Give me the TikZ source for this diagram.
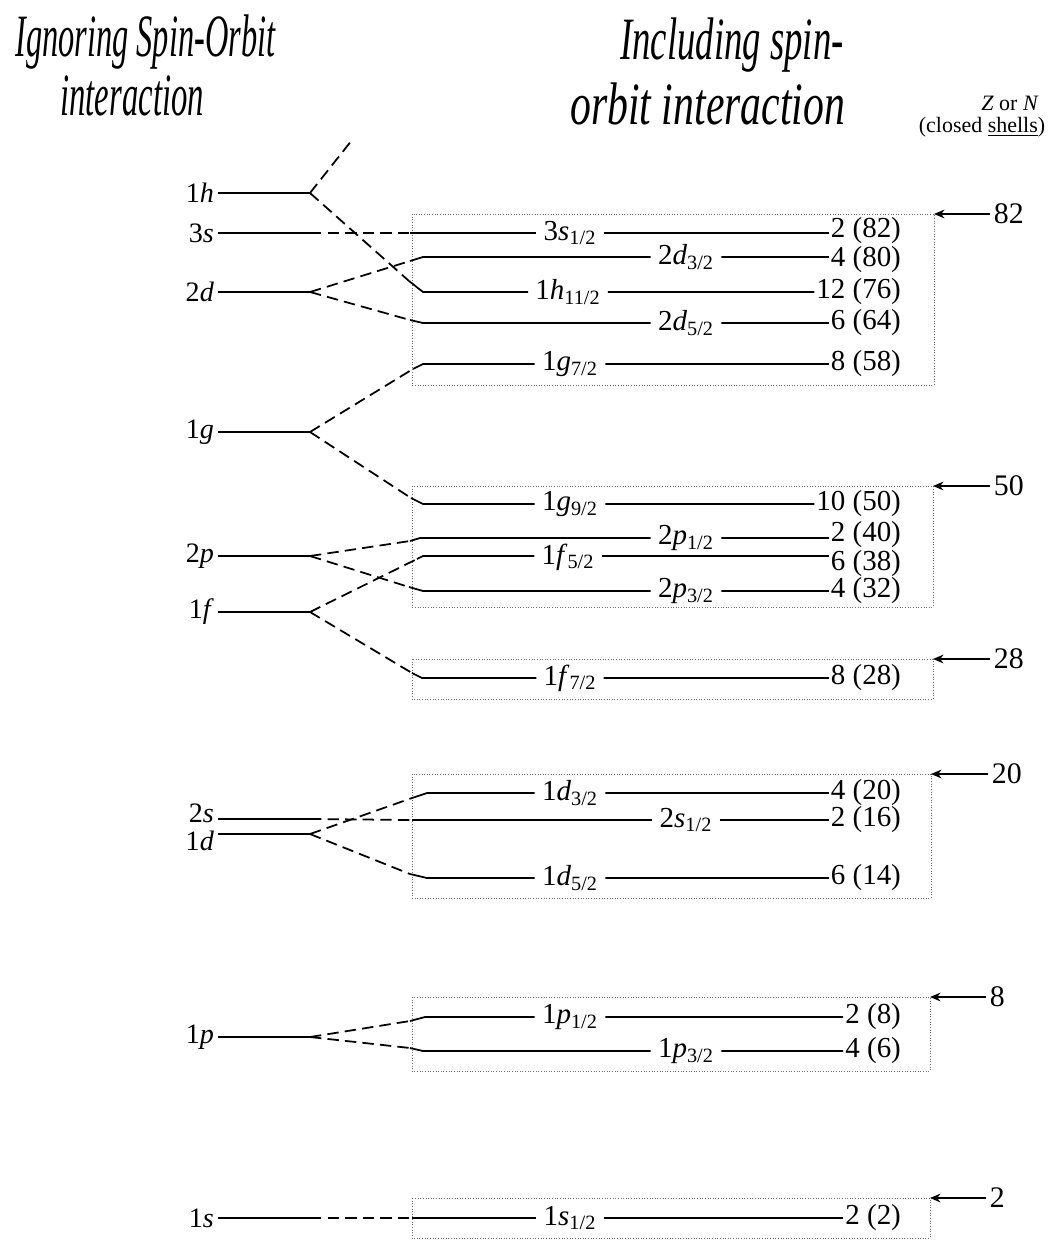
\documentclass[tikz,border=0pt]{standalone}
\usepackage{fontspec}
\usepackage{graphicx}
\setmainfont{Liberation Serif}
\usetikzlibrary{arrows.meta}
\newcommand{\orb}[3]{#1\textit{#2}\textsubscript{#3}}
\newcommand{\tall}[2][0.9]{\scalebox{#1}[1.8]{#2}}

\begin{document}
\begin{tikzpicture}[x=0.02cm, y=-0.02cm,
        lvl/.style={line width=1pt},
        split/.style={line width=1pt, dash pattern=on 6.5pt off 3.5pt},
        shellbox/.style={draw=black!55, densely dotted, line width=0.5pt},
        llab/.style={font=\fontsize{16}{18}\selectfont, anchor=east, inner sep=1pt},
        jlab/.style={font=\fontsize{16.5}{18}\selectfont, inner xsep=4pt, inner ysep=0pt},
        cnt/.style={font=\fontsize{16.5}{18}\selectfont, anchor=east, inner xsep=1pt, inner ysep=0pt},
        magic/.style={font=\fontsize{17}{19}\selectfont, anchor=west, inner sep=2pt},
        hdr/.style={font=\fontsize{12.5}{14}\selectfont, inner sep=0pt},
        closed/.style={-{Stealth[length=6pt,width=5pt]}, line width=0.8pt},
        hand/.style={font=\fontsize{19}{21}\selectfont\itshape, anchor=west, inner sep=0pt}
    ]
        \useasboundingbox (0,0) rectangle (1050,1248);

        % titles
        \node[hand] (ign)  at (15,42)  {\tall[0.97]{Ignoring Spin-Orbit}};
        \node[hand] (ignb) at (60,96)  {\tall[0.98]{interaction}};
        \node[hand] (inc)  at (620,45) {\tall[1.1]{Including spin-}};
        \node[hand] (incb) at (570,104) {\tall[1.25]{orbit interaction}};
        \node[hdr] (zn) at (1010,103) {\textit{Z} or \textit{N}};
        \node[hdr] (cs) at (982,127) {(closed \underline{shells})};

        % closed shell boxes
        \draw[shellbox] (412,214) rectangle (934,385);
        \draw[shellbox] (412,486) rectangle (933,607);
        \draw[shellbox] (412,659) rectangle (933,699);
        \draw[shellbox] (412,774) rectangle (931,898);
        \draw[shellbox] (412,997) rectangle (930,1071);
        \draw[shellbox] (412,1198) rectangle (930,1238);
        \coordinate (k82) at (934,214);
        \coordinate (k50) at (933,486);
        \coordinate (k28) at (933,659);
        \coordinate (k20) at (931,774);
        \coordinate (k8) at (930,997);
        \coordinate (k2) at (930,1198);

        % magic numbers
        \node[magic] (c82) at (990,214) {82};
        \node[magic] (c50) at (990,486) {50};
        \node[magic] (c28) at (990,659) {28};
        \node[magic] (c20) at (988,774) {20};
        \node[magic] (c8) at (986,997) {8};
        \node[magic] (c2) at (986,1198) {2};
        \draw[closed] (c82) -- (k82);
        \draw[closed] (c50) -- (k50);
        \draw[closed] (c28) -- (k28);
        \draw[closed] (c20) -- (k20);
        \draw[closed] (c8) -- (k8);
        \draw[closed] (c2) -- (k2);

        % levels without spin-orbit
        \node[llab] (l1h) at (216,193) {1\textit{h}};
        \node[llab] (l3s) at (216,233) {3\textit{s}};
        \node[llab] (l2d) at (216,292) {2\textit{d}};
        \node[llab] (l1g) at (216,432) {1\textit{g}};
        \node[llab] (l2p) at (216,556) {2\textit{p}};
        \node[llab] (l1f) at (216,612) {1\textit{f}};
        \node[llab] (l2s) at (216,813) {2\textit{s}};
        \node[llab] (l1d) at (216,841) {1\textit{d}};
        \node[llab] (l1p) at (216,1037) {1\textit{p}};
        \node[llab] (l1s) at (216,1218) {1\textit{s}};
        \coordinate (s1h) at (310,193);
        \coordinate (s3s) at (310,233);
        \coordinate (s2d) at (310,292);
        \coordinate (s1g) at (310,432);
        \coordinate (s2p) at (310,556);
        \coordinate (s1f) at (310,612);
        \coordinate (s2s) at (310,819);
        \coordinate (s1d) at (310,834);
        \coordinate (s1p) at (310,1037);
        \coordinate (s1s) at (310,1218);
        \draw[lvl] (218,193) -- (s1h);
        \draw[lvl] (218,233) -- (s3s);
        \draw[lvl] (218,292) -- (s2d);
        \draw[lvl] (218,432) -- (s1g);
        \draw[lvl] (218,556) -- (s2p);
        \draw[lvl] (218,612) -- (s1f);
        \draw[lvl] (218,819) -- (s2s);
        \draw[lvl] (218,834) -- (s1d);
        \draw[lvl] (218,1037) -- (s1p);
        \draw[lvl] (218,1218) -- (s1s);

        % levels with spin-orbit: elbow, start, label, count
        \coordinate (e3s) at (410,233);
        \node[jlab] (j3s) at (570,233) {\orb{3}{s}{1/2}};
        \node[cnt] (n3s) at (903,231) {2 (82)};
        \draw[lvl] (e3s) -- (j3s) -- (n3s.west |- e3s);

        \coordinate (e2d3) at (410,261); \coordinate (r2d3) at (423,257);
        \node[jlab] (j2d3) at (686,257) {\orb{2}{d}{3/2}};
        \node[cnt] (n2d3) at (903,260) {4 (80)};
        \draw[lvl] (e2d3) -- (r2d3) -- (j2d3) -- (n2d3.west |- r2d3);

        \coordinate (e1h) at (409,281); \coordinate (r1h) at (423,292);
        \node[jlab] (j1h) at (568,292) {\orb{1}{h}{11/2}};
        \node[cnt] (n1h) at (903,292) {12 (76)};
        \draw[lvl] (e1h) -- (r1h) -- (j1h) -- (n1h);

        \coordinate (e2d5) at (410,320); \coordinate (r2d5) at (423,323);
        \node[jlab] (j2d5) at (686,323) {\orb{2}{d}{5/2}};
        \node[cnt] (n2d5) at (903,323) {6 (64)};
        \draw[lvl] (e2d5) -- (r2d5) -- (j2d5) -- (n2d5);

        \coordinate (e1g7) at (413,369); \coordinate (r1g7) at (423,364);
        \node[jlab] (j1g7) at (570,364) {\orb{1}{g}{7/2}};
        \node[cnt] (n1g7) at (903,364) {8 (58)};
        \draw[lvl] (e1g7) -- (r1g7) -- (j1g7) -- (n1g7);

        \coordinate (e1g9) at (411,498); \coordinate (r1g9) at (423,504);
        \node[jlab] (j1g9) at (570,504) {\orb{1}{g}{9/2}};
        \node[cnt] (n1g9) at (903,504) {10 (50)};
        \draw[lvl] (e1g9) -- (r1g9) -- (j1g9) -- (n1g9);

        \coordinate (e2p1) at (410,541); \coordinate (r2p1) at (420,538);
        \node[jlab] (j2p1) at (686,538) {\orb{2}{p}{1/2}};
        \node[cnt] (n2p1) at (903,535) {2 (40)};
        \draw[lvl] (e2p1) -- (r2p1) -- (j2p1) -- (n2p1.west |- r2p1);

        \coordinate (e1f5) at (417,559); \coordinate (r1f5) at (423,556);
        \node[jlab] (j1f5) at (568,557) {\orb{1}{f}{5/2}};
        \node[cnt] (n1f5) at (903,564) {6 (38)};
        \draw[lvl] (e1f5) -- (r1f5) -- (j1f5.west |- r1f5);
        \draw[lvl] (j1f5.east |- r1f5) -- (n1f5.west |- r1f5);

        \coordinate (e2p3) at (409,587); \coordinate (r2p3) at (423,591);
        \node[jlab] (j2p3) at (686,591) {\orb{2}{p}{3/2}};
        \node[cnt] (n2p3) at (903,591) {4 (32)};
        \draw[lvl] (e2p3) -- (r2p3) -- (j2p3) -- (n2p3);

        \coordinate (e1f7) at (412,673); \coordinate (r1f7) at (422,678);
        \node[jlab] (j1f7) at (570,678) {\orb{1}{f}{7/2}};
        \node[cnt] (n1f7) at (903,678) {8 (28)};
        \draw[lvl] (e1f7) -- (r1f7) -- (j1f7) -- (n1f7);

        \coordinate (e1d3) at (412,798); \coordinate (r1d3) at (427,793);
        \node[jlab] (j1d3) at (570,793) {\orb{1}{d}{3/2}};
        \node[cnt] (n1d3) at (903,793) {4 (20)};
        \draw[lvl] (e1d3) -- (r1d3) -- (j1d3) -- (n1d3);

        \coordinate (e2s) at (412,820);
        \node[jlab] (j2s) at (686,820) {\orb{2}{s}{1/2}};
        \node[cnt] (n2s) at (903,820) {2 (16)};
        \draw[lvl] (e2s) -- (j2s) -- (n2s);

        \coordinate (e1d5) at (410,874); \coordinate (r1d5) at (427,878);
        \node[jlab] (j1d5) at (570,878) {\orb{1}{d}{5/2}};
        \node[cnt] (n1d5) at (903,878) {6 (14)};
        \draw[lvl] (e1d5) -- (r1d5) -- (j1d5) -- (n1d5);

        \coordinate (e1p1) at (410,1021); \coordinate (r1p1) at (425,1017);
        \node[jlab] (j1p1) at (570,1017) {\orb{1}{p}{1/2}};
        \node[cnt] (n1p1) at (903,1017) {2 (8)};
        \draw[lvl] (e1p1) -- (r1p1) -- (j1p1) -- (n1p1);

        \coordinate (e1p3) at (410,1048); \coordinate (r1p3) at (423,1051);
        \node[jlab] (j1p3) at (686,1051) {\orb{1}{p}{3/2}};
        \node[cnt] (n1p3) at (903,1051) {4 (6)};
        \draw[lvl] (e1p3) -- (r1p3) -- (j1p3) -- (n1p3);

        \coordinate (e1s) at (412,1218);
        \node[jlab] (j1s) at (570,1218) {\orb{1}{s}{1/2}};
        \node[cnt] (n1s) at (903,1218) {2 (2)};
        \draw[lvl] (e1s) -- (j1s) -- (n1s);

        % splitting
        \coordinate (h9) at (352,140);
        \draw[split] (s1h) -- (h9);
        \draw[split] (s1h) -- (e1h);
        \draw[split] (s3s) -- (e3s);
        \draw[split] (s2d) -- (e2d3);
        \draw[split] (s2d) -- (e2d5);
        \draw[split] (s1g) -- (e1g7);
        \draw[split] (s1g) -- (e1g9);
        \draw[split] (s2p) -- (e2p1);
        \draw[split] (s2p) -- (e2p3);
        \draw[split] (s1f) -- (e1f5);
        \draw[split] (s1f) -- (e1f7);
        \draw[split] (s2s) -- (e2s);
        \draw[split] (s1d) -- (e1d3);
        \draw[split] (s1d) -- (e1d5);
        \draw[split] (s1p) -- (e1p1);
        \draw[split] (s1p) -- (e1p3);
        \draw[split] (s1s) -- (e1s);
    \end{tikzpicture}
\end{document}
